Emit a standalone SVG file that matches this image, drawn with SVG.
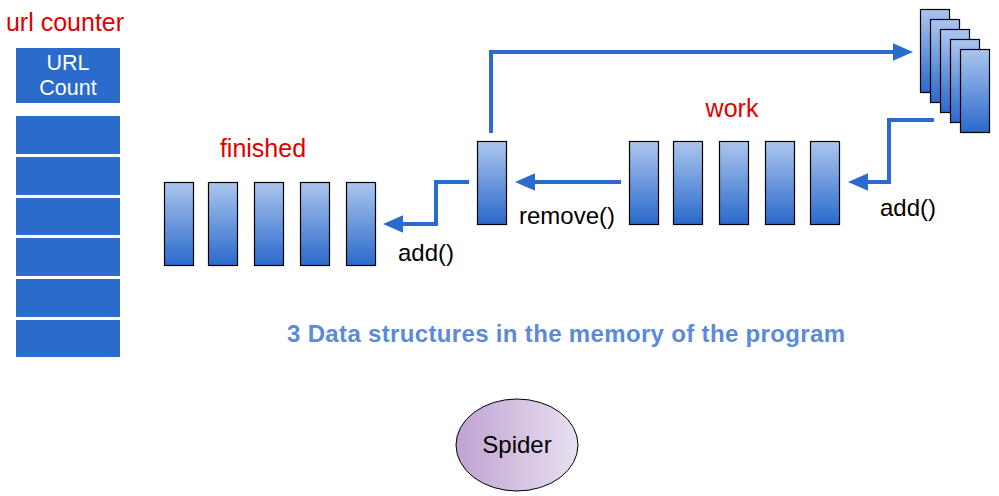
<svg xmlns="http://www.w3.org/2000/svg" width="999" height="496" viewBox="0 0 999 496">
<defs>
<linearGradient id="barg" x1="0" y1="0" x2="0" y2="1">
<stop offset="0" stop-color="#abc6ee"/>
<stop offset="1" stop-color="#2a69cb"/>
</linearGradient>
<linearGradient id="spg" x1="0" y1="0" x2="1" y2="0">
<stop offset="0" stop-color="#bfa3d2"/>
<stop offset="1" stop-color="#e8e0f0"/>
</linearGradient>
<marker id="ah" markerWidth="5" markerHeight="5" refX="0.5" refY="2.2" orient="auto" markerUnits="strokeWidth" viewBox="0 0 5 4.4">
<path d="M0,0 L5,2.2 L0,4.4 Z" fill="#2a6bcd"/>
</marker>
</defs>
<style>
.bar{fill:url(#barg);stroke:#000;stroke-width:1.2}
.cell{fill:#2a6bcb}
.red{font-family:"Liberation Sans",Arial,sans-serif;font-size:25px;fill:#e00000;text-anchor:middle}
.lbl{font-family:"Liberation Sans",Arial,sans-serif;font-size:24px;fill:#000}
.wht{font-family:"Liberation Sans",Arial,sans-serif;font-size:21.5px;fill:#fff;text-anchor:middle}
.conn{fill:none;stroke:#2a6bcd;stroke-width:4;marker-end:url(#ah)}
</style>
<g id="url-counter">
<text class="red" x="65" y="31">url counter</text>
<rect class="cell" x="16" y="48" width="104" height="55"/>
<text class="wht" x="68" y="70">URL</text>
<text class="wht" x="68" y="95">Count</text>
<rect class="cell" x="16" y="116" width="104" height="38"/>
<rect class="cell" x="16" y="157" width="104" height="38"/>
<rect class="cell" x="16" y="198" width="104" height="37"/>
<rect class="cell" x="16" y="238" width="104" height="38"/>
<rect class="cell" x="16" y="279" width="104" height="38"/>
<rect class="cell" x="16" y="320" width="104" height="37"/>
</g>
<g id="finished">
<text class="red" x="263" y="157">finished</text>
<rect class="bar" x="164.5" y="182.5" width="29" height="83"/>
<rect class="bar" x="208.5" y="182.5" width="29" height="83"/>
<rect class="bar" x="254.5" y="182.5" width="29" height="83"/>
<rect class="bar" x="300.5" y="182.5" width="29" height="83"/>
<rect class="bar" x="346.5" y="182.5" width="29" height="83"/>
</g>
<g id="current">
<rect class="bar" x="477.5" y="141.5" width="29" height="83"/>
</g>
<g id="work">
<text class="red" x="732" y="117">work</text>
<rect class="bar" x="629.5" y="141.5" width="29" height="83"/>
<rect class="bar" x="673.5" y="141.5" width="29" height="83"/>
<rect class="bar" x="719.5" y="141.5" width="29" height="83"/>
<rect class="bar" x="765.5" y="141.5" width="29" height="83"/>
<rect class="bar" x="810.5" y="141.5" width="29" height="83"/>
</g>
<g id="url-stack">
<rect class="bar" x="920.5" y="9.5" width="29" height="83"/>
<rect class="bar" x="930.5" y="19.5" width="29" height="83"/>
<rect class="bar" x="940.5" y="29.5" width="29" height="83"/>
<rect class="bar" x="950.5" y="39.5" width="29" height="83"/>
<rect class="bar" x="960.5" y="49.5" width="29" height="83"/>
</g>
<g id="connectors">
<path class="conn" d="M491,133 L491,52 L895,52"/>
<path class="conn" d="M934,120 L889,120 L889,182 L866,182"/>
<path class="conn" d="M621,182 L533,182"/>
<path class="conn" d="M469,182 L436,182 L436,224 L401,224"/>
</g>
<g id="labels">
<text class="lbl" x="519" y="224">remove()</text>
<text class="lbl" x="398" y="261">add()</text>
<text class="lbl" x="880" y="216">add()</text>
<text x="287" y="342" font-family="'Liberation Sans',Arial,sans-serif" font-size="24" font-weight="bold" fill="#5b8bd8" textLength="558" lengthAdjust="spacing">3 Data structures in the memory of the program</text>
</g>
<g id="spider">
<ellipse cx="517" cy="445" rx="61" ry="46" fill="url(#spg)" stroke="#000" stroke-width="1"/>
<text class="lbl" x="517" y="453" text-anchor="middle">Spider</text>
</g>
</svg>
